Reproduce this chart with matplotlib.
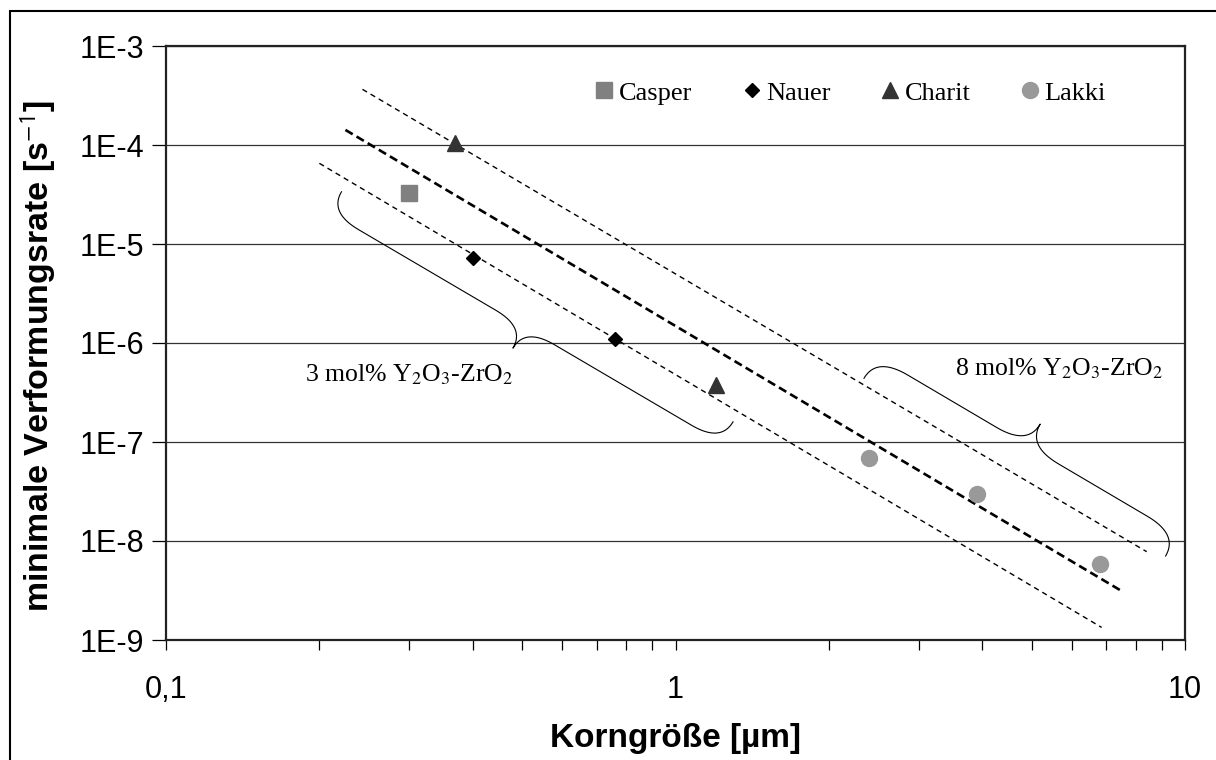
import numpy as np
import matplotlib
matplotlib.use('Agg')
import matplotlib.pyplot as plt
from matplotlib.patches import Rectangle
from matplotlib.ticker import FixedLocator, FixedFormatter, LogLocator, NullFormatter, NullLocator

plt.rcParams['font.family'] = 'Liberation Sans'
plt.rcParams['mathtext.fontset'] = 'stix'

# measured points (grain size in um, min. strain rate in 1/s)
casper_x = [0.30]
casper_y = [3.3e-5]
nauer_x = [0.40, 0.76]
nauer_y = [7.3e-6, 1.09e-6]
charit_x = [0.37, 1.20]
charit_y = [1.05e-4, 3.8e-7]
lakki_x = [2.40, 3.90, 6.80]
lakki_y = [6.9e-8, 3.0e-8, 5.9e-9]

# dashed guide lines (start, end)
upper_x = [0.243, 8.41]
upper_y = [3.65e-4, 7.8e-9]
mid_x = [0.225, 7.57]
mid_y = [1.42e-4, 3.05e-9]
lower_x = [0.200, 6.86]
lower_y = [6.53e-5, 1.34e-9]

# braces: start point, end point (data), side
brace1 = [(0.221, 3.37e-5), (1.297, 1.60e-7), -1]
brace2 = [(2.344, 4.40e-7), (9.16, 7.05e-9), 1]

xticks = [0.1, 1, 10]
xticklabels = ['0,1', '1', '10']
yticks = [1e-9, 1e-8, 1e-7, 1e-6, 1e-5, 1e-4, 1e-3]
yticklabels = ['1E-9', '1E-8', '1E-7', '1E-6', '1E-5', '1E-4', '1E-3']

fig = plt.figure(figsize=(12.16, 7.6), dpi=100)
ax = fig.add_axes([166/1216, 120/760, 1019/1216, 594/760])
ax.set_xscale('log')
ax.set_yscale('log')
ax.set_xlim(0.1, 10)
ax.set_ylim(1e-9, 1e-3)

for y in yticks:
    ax.axhline(y, color='#333333', lw=0.9, zorder=1)

ax.plot(upper_x, upper_y, color='black', lw=1.0, dashes=(3.8, 3.0), zorder=2)
ax.plot(mid_x, mid_y, color='black', lw=1.9, dashes=(3.2, 1.7), zorder=2)
ax.plot(lower_x, lower_y, color='black', lw=1.0, dashes=(3.8, 3.0), zorder=2)

h1, = ax.plot(casper_x, casper_y, 's', color='#808080', ms=11.7, ls='none', label='Casper', zorder=3)
h2, = ax.plot(nauer_x, nauer_y, 'D', color='black', ms=7.6, ls='none', label='Nauer', zorder=3)
h3, = ax.plot(charit_x, charit_y, '^', color='#333333', ms=11, ls='none', label='Charit', zorder=3)
h4, = ax.plot(lakki_x, lakki_y, 'o', color='#999999', ms=11.5, ls='none', label='Lakki', zorder=3)


def bez(p0, c, p1, n=30):
    t = np.linspace(0, 1, n)[:, None]
    return (1 - t)**2 * p0 + 2 * (1 - t) * t * c + t**2 * p1


def draw_brace(start, end, side, h=24, a=34):
    p0 = ax.transData.transform(start)
    p1 = ax.transData.transform(end)
    d = p1 - p0
    L = np.hypot(*d)
    u = d / L
    nrm = side * np.array([-u[1], u[0]])
    m = L / 2
    P = lambda s, t: np.array([s, t])
    segs = [
        bez(P(0, 0), P(0, h), P(a, h)),
        bez(P(m - a, h), P(m, h), P(m, 2 * h)),
        bez(P(m, 2 * h), P(m, h), P(m + a, h)),
        bez(P(L - a, h), P(L, h), P(L, 0)),
    ]
    loc = np.vstack(segs)
    pts = p0 + loc[:, :1] * u + loc[:, 1:] * nrm
    dat = ax.transData.inverted().transform(pts)
    ax.plot(dat[:, 0], dat[:, 1], color='black', lw=0.8, zorder=2, clip_on=False)


draw_brace(brace1[0], brace1[1], brace1[2], h=24, a=34)
draw_brace(brace2[0], brace2[1], brace2[2], h=25, a=36)

ax.text(0.1876, 4.07e-7, r'3 mol% Y$_2$O$_3$-ZrO$_2$', family='Liberation Serif',
        fontsize=18.5, va='baseline', ha='left')
ax.text(3.53, 4.75e-7, r'8 mol% Y$_2$O$_3$-ZrO$_2$', family='Liberation Serif',
        fontsize=18.5, va='baseline', ha='left')

ax.legend(handles=[h1, h2, h3, h4], loc='center', bbox_to_anchor=(0.671, 0.921), ncol=4,
          frameon=False, prop={'family': 'Liberation Serif', 'size': 19},
          handlelength=0.8, handletextpad=0.15, columnspacing=1.85, borderpad=0)

ax.yaxis.set_major_locator(FixedLocator(yticks))
ax.yaxis.set_major_formatter(FixedFormatter(yticklabels))
ax.yaxis.set_minor_locator(NullLocator())
ax.xaxis.set_major_locator(FixedLocator(xticks))
ax.xaxis.set_major_formatter(FixedFormatter(xticklabels))
ax.xaxis.set_minor_locator(LogLocator(base=10, subs=np.arange(2, 10)))
ax.xaxis.set_minor_formatter(NullFormatter())
ax.tick_params(axis='y', which='major', length=10, width=0.9, labelsize=22, pad=6)
ax.tick_params(axis='x', which='both', length=7, width=0.9, labelsize=22, pad=18)

for sp in ax.spines.values():
    sp.set_linewidth(1.6)
    sp.set_color('#222222')

ax.set_ylabel('minimale Verformungsrate [s$^{\\mathsf{-1}}$]', fontsize=24.5, fontweight='bold', labelpad=15)
ax.yaxis.label.set_y(0.478)
ax.set_xlabel('Korngröße [µm]', fontsize=24, fontweight='bold', labelpad=13)

fig.patches.append(Rectangle((10/1216, -0.1), 1.2, 0.1 + 749/760, transform=fig.transFigure,
                             fill=False, lw=1.5, ec='black', clip_on=False))

fig.savefig('out.png', dpi=100)
